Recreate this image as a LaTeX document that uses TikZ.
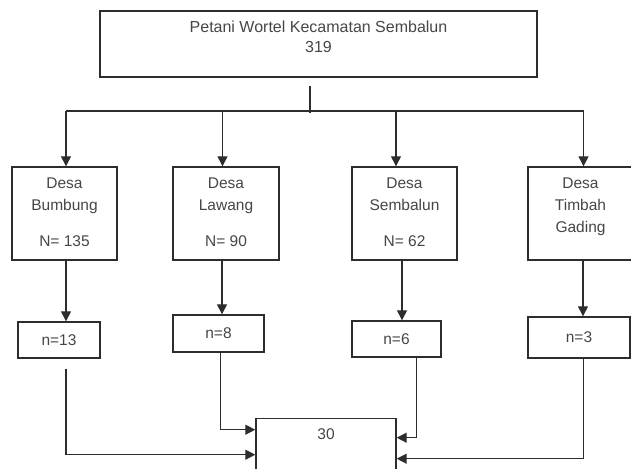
\documentclass[tikz,border=0pt]{standalone}
\usepackage{fontspec}
\setmainfont{Liberation Sans}
\usetikzlibrary{arrows.meta,positioning,calc}
\definecolor{lineg}{RGB}{45,45,45}
\definecolor{textg}{RGB}{70,70,70}
\tikzset{
  box/.style={draw=lineg, line width=1.4pt, inner sep=0pt},
  txt/.style={text=textg, font=\fontsize{15.5}{22}\selectfont, align=center, inner sep=0pt},
  wire/.style={draw=lineg, line width=1.3pt},
  arr/.style={wire, -{Triangle[length=10pt,width=10pt]}},
}

\begin{document}
\begin{tikzpicture}[x=1pt,y=-1pt]
  \useasboundingbox (0,0) rectangle (631,468);
  % population
  \node[box, minimum width=437, minimum height=66] (top) at (318.5,44) {};
  \node[txt, font=\fontsize{16}{20}\selectfont] (toptxt) at (318.5,37) {Petani Wortel Kecamatan Sembalun\\319};
  % villages
  \node[box, minimum width=105, minimum height=93] (bumbung) at (64.5,213.5) {};
  \node[box, minimum width=106, minimum height=93] (lawang) at (226,213.5) {};
  \node[box, minimum width=105, minimum height=93] (sembalun) at (404.5,213.5) {};
  \node[box, minimum width=105, minimum height=93] (timbah) at (580.5,213.5) {};
  \node[txt] (bumbungtxt) at (64.5,212) {Desa\\Bumbung\\[14pt]N= 135};
  \node[txt] (lawangtxt) at (226,212) {Desa\\Lawang\\[14pt]N= 90};
  \node[txt] (sembaluntxt) at (404.5,212) {Desa\\Sembalun\\[14pt]N= 62};
  \node[txt] (timbahtxt) at (580.5,207) {Desa\\Timbah\\Gading};
  % samples
  \node[box, txt, minimum width=82, minimum height=36] (nbumbung) at (59,340) {n=13};
  \node[box, txt, minimum width=91, minimum height=37] (nlawang) at (218.5,333.5) {n=8};
  \node[box, txt, minimum width=89, minimum height=36] (nsembalun) at (396.5,339) {n=6};
  \node[box, txt, minimum width=102, minimum height=41] (ntimbah) at (579,337.5) {n=3};
  \node[box, minimum width=140, minimum height=72, anchor=north] (total) at (326,418) {};
  \node[txt] (totaltxt) at (326,434) {30};

  % branching
  \coordinate (bus) at (310,111);
  \coordinate (stubtop) at (310,86);
  \coordinate (stubbot) at (310,113);
  \draw[wire] (stubtop) -- (stubbot);
  \draw[wire] ([xshift=1.5]bumbung.north |- bus) -- ([xshift=3]timbah.north |- bus);
  \foreach \name/\dx in {bumbung/1.5, lawang/-3.5, sembalun/-8.5, timbah/3}
    \draw[arr] ([xshift=\dx]\name.north |- bus) -- ([xshift=\dx]\name.north);
  \foreach \name/\sub/\dx in {bumbung/nbumbung/1.5, lawang/nlawang/-4, sembalun/nsembalun/-2.5, timbah/ntimbah/2.5}
    \draw[arr] ([xshift=\dx]\name.south) -- ([xshift=\dx]\name.south |- \sub.north);

  % into total
  \draw[arr] ([xshift=7,yshift=-10]nbumbung.south) |- (total.west);
  \draw[arr] ([xshift=2]nlawang.south) |- ([yshift=25]total.west);
  \draw[arr] ([xshift=20]nsembalun.south) |- ([yshift=17]total.east);
  \draw[arr] ([xshift=4.5]ntimbah.south) |- ([yshift=-4]total.east);
\end{tikzpicture}
\end{document}
